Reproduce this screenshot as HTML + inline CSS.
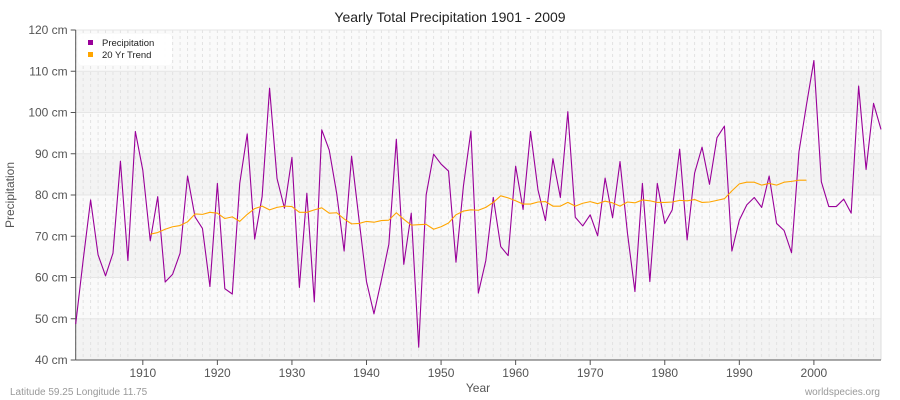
<!DOCTYPE html>
<html><head><meta charset="utf-8">
<style>
body{margin:0;background:#fff;}
svg{display:block;font-family:"Liberation Sans",sans-serif;}
</style></head>
<body>
<svg id="chart" width="900" height="400" viewBox="0 0 900 400">
<text x="450" y="22" text-anchor="middle" font-size="14" fill="#222">Yearly Total Precipitation 1901 - 2009</text>
<g id="bands"></g>
<g id="vgrid"></g>
<g id="yaxis"></g>
<g id="xaxis"></g>
<g id="series"></g>
<text x="14" y="195" transform="rotate(-90 14 195)" text-anchor="middle" font-size="12" fill="#555">Precipitation</text>
<text x="478" y="392" text-anchor="middle" font-size="12" fill="#555">Year</text>
<text x="10" y="395" font-size="10" fill="#999">Latitude 59.25 Longitude 11.75</text>
<text x="880" y="395" text-anchor="end" font-size="10" fill="#999">worldspecies.org</text>
<g>
<rect x="78" y="34" width="94" height="31" rx="4" fill="#fff" opacity="0.95"/>
<rect x="88" y="40" width="5" height="5" fill="#990099"/>
<text x="102" y="46" font-size="9.5" fill="#222">Precipitation</text>
<rect x="88" y="52" width="5" height="5" fill="#ffa500"/>
<text x="102" y="58" font-size="9.5" fill="#222">20 Yr Trend</text>
</g>
</svg>
<script>
const startYear = 1901;
const precipitation = [48.7,64.2,78.8,65.5,60.4,65.9,88.2,64.1,95.4,86,68.9,79.6,58.9,60.8,65.9,84.6,74.7,71.9,57.8,82.8,57.3,56,82.8,94.8,69.3,79.6,105.9,84,76.8,89.1,57.6,80.4,54.1,95.8,90.9,80.4,66.4,89.4,74,59,51.2,59.4,68.1,93.5,63.2,75.6,43.1,80,89.9,87.5,85.8,63.7,82.2,95.5,56.2,64.1,79.4,67.5,65.3,87,76.5,95.4,81.2,73.8,88.8,79.4,100.2,74.6,72.5,75.2,70.1,84.1,74.5,88.1,70.7,56.6,82.8,59,82.8,73.1,76.4,91.1,69.1,85.3,91.6,82.6,93.9,96.7,66.4,73.9,77.6,79.4,77,84.6,73.1,71.4,66,90.5,101.8,112.6,83.2,77.2,77.2,79,75.6,106.4,86.2,102.2,95.9];
const trendStart = 1911;
const trend = [70.5,70.9,71.7,72.3,72.6,73.5,75.4,75.3,75.8,75.6,74.3,74.7,73.6,75.3,76.7,77.3,76.4,77,77.3,77.2,75.8,75.8,76.4,76.9,75.6,75.7,74.2,73,73.1,73.6,73.4,73.8,73.9,75.7,74.1,72.7,72.8,72.9,71.7,72.3,73.2,75.2,76.1,76.4,76.3,77,78.2,79.8,79.3,78.6,77.8,77.8,78.3,78.4,77.3,77.3,78.2,77.3,78,78.4,77.9,78.5,78.1,77.3,78.3,78.1,78.8,78.6,78.2,78.2,78.3,78.7,78.6,78.9,78.2,78.3,78.7,79.1,81,82.7,83.1,83.1,82.4,82.8,82.4,83.1,83.3,83.6,83.6];
const yTicks = [40,50,60,70,80,90,100,110,120];
const xTicks = [1910,1920,1930,1940,1950,1960,1970,1980,1990,2000];

const NS="http://www.w3.org/2000/svg";
const L=75.7,R=881,T=30,B=360;
const x=yr=>L+(yr-1901)*(R-L)/(2009-1901);
const y=v=>B-(v-40)*(B-T)/80;
function mk(tag,attrs,parent){const e=document.createElementNS(NS,tag);for(const k in attrs)e.setAttribute(k,attrs[k]);parent.appendChild(e);return e;}

const bands=document.getElementById('bands');
for(let i=0;i<yTicks.length-1;i++){
  const r=mk('rect',{x:L,y:y(yTicks[i+1]),width:R-L,height:y(yTicks[i])-y(yTicks[i+1]),fill:(i%2===0)?'#f3f3f3':'#fafafa'},bands);
  
  
}
const vg=document.getElementById('vgrid');
for(let yr=1901;yr<=2009;yr++){
  const l=mk('line',{x1:x(yr),x2:x(yr),y1:T,y2:B,stroke:'#e2e2e2','stroke-width':1,'stroke-dasharray':'3,3'},vg);
  
  
}
const ya=document.getElementById('yaxis');
yTicks.forEach(v=>{
  const g=mk('line',{x1:L,x2:R,y1:y(v),y2:y(v),stroke:'#e6e6e6','stroke-width':1},ya);
  
  
  const t=mk('line',{x1:L-5,x2:L,y1:y(v),y2:y(v),stroke:'#555'},ya);
  
  
  const tx=mk('text',{x:L-8,y:y(v)+4,'text-anchor':'end','font-size':12,fill:'#555'},ya);
  tx.textContent=v+' cm';
  
  
});
mk('line',{x1:R,x2:R,y1:T,y2:B,stroke:'#ddd'},ya);
mk('line',{x1:L,x2:L,y1:T,y2:B,stroke:'#555'},ya);
const xa=document.getElementById('xaxis');
mk('line',{x1:L,x2:R,y1:B,y2:B,stroke:'#555'},xa);
xTicks.forEach(yr=>{
  const t=mk('line',{x1:x(yr),x2:x(yr),y1:B,y2:B+5,stroke:'#555'},xa);
  
  
  const tx=mk('text',{x:x(yr),y:B+17,'text-anchor':'middle','font-size':12,fill:'#555'},xa);
  tx.textContent=yr;
  
  
});
const s=document.getElementById('series');
const p1=mk('polyline',{points:precipitation.map((v,i)=>x(startYear+i)+','+y(v)).join(' '),fill:'none',stroke:'#990099','stroke-width':1.1,'stroke-linejoin':'round'},s);


const p2=mk('polyline',{points:trend.map((v,i)=>x(trendStart+i)+','+y(v)).join(' '),fill:'none',stroke:'#ffa500','stroke-width':1.1,'stroke-linejoin':'round'},s);


</script>
</body></html>
